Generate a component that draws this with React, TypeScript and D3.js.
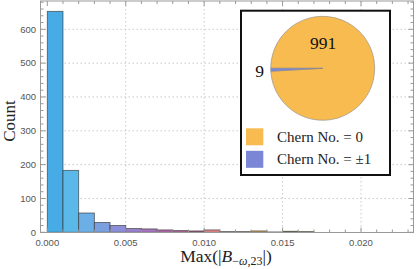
import React from "react";
import * as d3 from "d3";

const binStarts = [0, 0.001, 0.002, 0.003, 0.004, 0.005, 0.006, 0.007, 0.008, 0.009, 0.010, 0.011, 0.012, 0.013, 0.014, 0.015, 0.016];
const counts = [653, 183, 57, 29, 20, 11, 10, 7, 5, 4, 7, 2, 2, 4, 1, 3, 2];
const barColors = ["#47ace5", "#5bb9ea", "#6cafe7", "#7c9fe0", "#8c8ed7", "#9a80cc", "#a874bf", "#b36aad", "#b8629b", "#a85f80", "#e88a8a", "#9a8a80", "#a89078", "#e2aa5a", "#a09a88", "#8f8f50", "#8f8f50"];
const binWidth = 0.001;
const xTicks = [0, 0.005, 0.01, 0.015, 0.02];
const yTicks = [0, 100, 200, 300, 400, 500, 600];
const pieValues = [991, 9];
const pieLabels = ["Chern No. = 0", "Chern No. = \u00b11"];
const pieColors = ["#f8bb50", "#7b86d6"];

export default function App() {
  const W = 416, H = 269;
  const L = 40.5, R = 413.5, T = 1, B = 232.5;
  const x = d3.scaleLinear().domain([0, 0.02]).range([47.3, 361]);
  const y = d3.scaleLinear().domain([0, 600]).range([232.3, 29.3]);
  const xMinor = d3.range(0, 0.0235, 0.001);
  const yMinor = d3.range(0, 690, 20);
  const frame = "#999";
  const grid = "#c8c8c8";
  const serif = "Liberation Serif, Times New Roman, serif";

  const cx = 322.7, cy = 68.3, r = 52;
  const pie = d3.pie<number>().sort(null).startAngle(1.5 * Math.PI).endAngle(3.5 * Math.PI);
  const arcs = pie(pieValues);
  const arc = d3.arc<d3.PieArcDatum<number>>().innerRadius(0).outerRadius(r);

  return (
    <svg width={W} height={H} style={{ position: "absolute", left: 0, top: 0, background: "#fff" }}>
      <rect width={W} height={H} fill="#fff" />
      {xTicks.slice(1).map((t) => (
        <line key={"gx" + t} x1={x(t)} x2={x(t)} y1={T} y2={B} stroke={grid} strokeDasharray="1.5,2.5" />
      ))}
      {yTicks.slice(1).map((t) => (
        <line key={"gy" + t} x1={L} x2={R} y1={y(t)} y2={y(t)} stroke={grid} strokeDasharray="1.5,2.5" />
      ))}
      {counts.map((c, i) => (
        <rect
          key={"b" + i}
          x={x(binStarts[i])}
          width={x(binStarts[i] + binWidth) - x(binStarts[i])}
          y={y(c)}
          height={y(0) - y(c)}
          fill={barColors[i]}
          stroke="#333"
          strokeOpacity={0.7}
          strokeWidth={0.9}
        />
      ))}
      <rect x={L} y={T} width={R - L} height={B - T} fill="none" stroke={frame} strokeWidth={1} />
      {xMinor.filter((t) => x(t) < R).map((t, i) => {
        const major = i % 5 === 0;
        const len = major ? 5 : 3;
        return (
          <g key={"xt" + i}>
            <line x1={x(t)} x2={x(t)} y1={B} y2={B - len} stroke={frame} />
            <line x1={x(t)} x2={x(t)} y1={T} y2={T + len} stroke={frame} />
          </g>
        );
      })}
      {yMinor.filter((t) => y(t) > T).map((t, i) => {
        const major = t % 100 === 0;
        const len = major ? 5 : 3;
        return (
          <g key={"yt" + i}>
            <line x1={L} x2={L + len} y1={y(t)} y2={y(t)} stroke={frame} />
            <line x1={R} x2={R - len} y1={y(t)} y2={y(t)} stroke={frame} />
          </g>
        );
      })}
      {xTicks.map((t) => (
        <text key={"xl" + t} x={x(t)} y={245.5} textAnchor="middle" fontFamily="Liberation Sans, Arial, sans-serif" fontSize={9.5} fill="#555">
          {d3.format(".3f")(t)}
        </text>
      ))}
      {yTicks.map((t) => (
        <text key={"yl" + t} x={36} y={y(t) + 3.3} textAnchor="end" fontFamily="Liberation Sans, Arial, sans-serif" fontSize={9.5} fill="#555">
          {t}
        </text>
      ))}
      <text transform="translate(15,121) rotate(-90)" textAnchor="middle" fontFamily={serif} fontSize={17} fill="#222">
        Count
      </text>
      <text x={226} y={262} textAnchor="middle" fontFamily={serif} fontSize={17.5} fill="#222">
        Max(|<tspan fontStyle="italic">B</tspan>
        <tspan fontSize={12} dy={3}>
          −<tspan fontStyle="italic">ω</tspan>,23
        </tspan>
        <tspan dy={-3}>|)</tspan>
      </text>
      <rect x={241} y={10.7} width={149} height={164.3} fill="#fff" stroke="#111" strokeWidth={2} />
      <g transform={`translate(${cx},${cy})`}>
        {arcs.map((a, i) => (
          <path key={"p" + i} d={arc(a) || ""} fill={pieColors[i]} stroke="#8a8a8a" strokeWidth={0.6} />
        ))}
      </g>
      <text x={323} y={49} textAnchor="middle" fontFamily={serif} fontSize={17.5} fill="#111">
        {pieValues[0]}
      </text>
      <text x={259.5} y={77} textAnchor="middle" fontFamily={serif} fontSize={17.5} fill="#111">
        {pieValues[1]}
      </text>
      {pieLabels.map((lab, i) => (
        <g key={"lg" + i}>
          <rect x={246} y={128.3 + i * 22.5} width={17.3} height={17} fill={pieColors[i]} />
          <text x={277} y={141.5 + i * 22.5} fontFamily={serif} fontSize={15} fill="#222" style={{ whiteSpace: "pre" }}>
            {lab}
          </text>
        </g>
      ))}
    </svg>
  );
}
